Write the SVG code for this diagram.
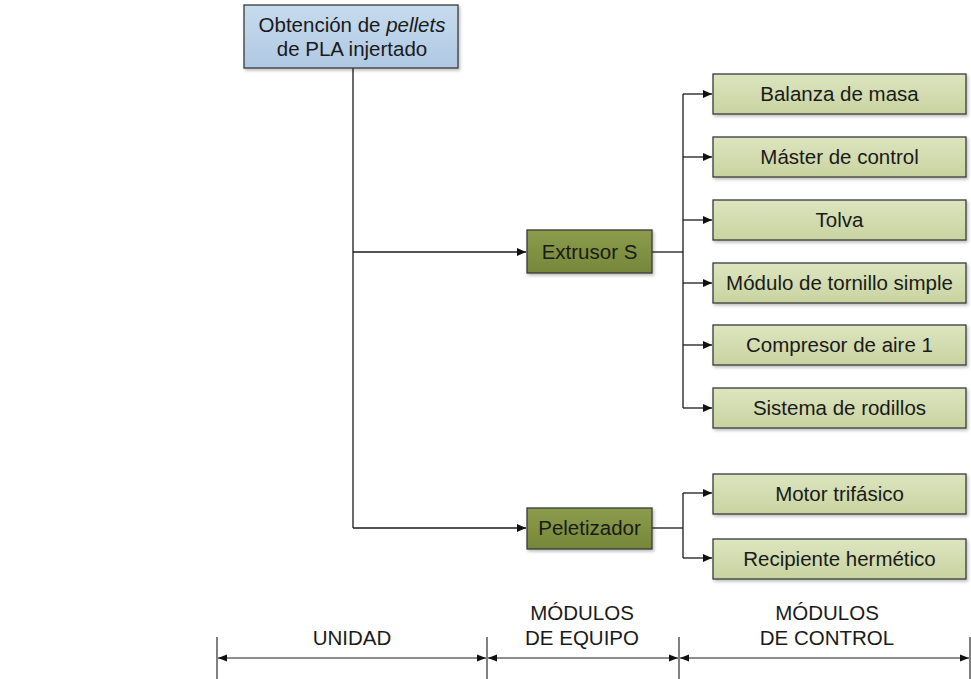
<svg xmlns="http://www.w3.org/2000/svg" width="971" height="679" viewBox="0 0 971 679">
<style>
text{font-family:"Liberation Sans",Arial,sans-serif;font-size:20.5px;fill:#1a1a1a;text-anchor:middle}
.ctl{fill:url(#gCtl);stroke:#3a3a3a;stroke-width:1.3}
.eq{fill:url(#gEq);stroke:#3a3a3a;stroke-width:1.3}
.un{fill:url(#gUn);stroke:#3a3a3a;stroke-width:1.3}
.ln{fill:none;stroke:#1a1a1a;stroke-width:1.3}
.dim{fill:none;stroke:#1a1a1a;stroke-width:1.1}
</style>
<defs>
<linearGradient id="gCtl" x1="0" y1="0" x2="0" y2="1"><stop offset="0" stop-color="#dde5bf"/><stop offset="1" stop-color="#c8d3a0"/></linearGradient>
<linearGradient id="gEq" x1="0" y1="0" x2="0" y2="1"><stop offset="0" stop-color="#8c9c4c"/><stop offset="1" stop-color="#76873a"/></linearGradient>
<linearGradient id="gUn" x1="0" y1="0" x2="0" y2="1"><stop offset="0" stop-color="#c7dbee"/><stop offset="1" stop-color="#afc9e2"/></linearGradient>
<filter id="sh" x="-10%" y="-20%" width="130%" height="150%"><feDropShadow dx="1.5" dy="2" stdDeviation="1.5" flood-color="#000" flood-opacity="0.25"/></filter>
<marker id="ar" markerWidth="10" markerHeight="10" refX="9" refY="5" orient="auto" markerUnits="userSpaceOnUse"><path d="M0,1 L9,5 L0,9 Z" fill="#111"/></marker>
<marker id="da" markerWidth="10" markerHeight="10" refX="9" refY="5" orient="auto-start-reverse" markerUnits="userSpaceOnUse"><path d="M0,1.5 L9,5 L0,8.5 Z" fill="#111"/></marker>
</defs>
<g id="connectors">
<path class="ln" d="M353,68 V528"/>
<path class="ln" d="M353,252 H526" marker-end="url(#ar)"/>
<path class="ln" d="M353,528 H526" marker-end="url(#ar)"/>
<path class="ln" d="M652,252 H683"/>
<path class="ln" d="M683,94 V408"/>
<path class="ln" d="M683,94 H712" marker-end="url(#ar)"/>
<path class="ln" d="M683,157 H712" marker-end="url(#ar)"/>
<path class="ln" d="M683,220 H712" marker-end="url(#ar)"/>
<path class="ln" d="M683,283 H712" marker-end="url(#ar)"/>
<path class="ln" d="M683,345 H712" marker-end="url(#ar)"/>
<path class="ln" d="M683,408 H712" marker-end="url(#ar)"/>
<path class="ln" d="M652,528 H683"/>
<path class="ln" d="M683,493 V558"/>
<path class="ln" d="M683,493 H712" marker-end="url(#ar)"/>
<path class="ln" d="M683,558 H712" marker-end="url(#ar)"/>
</g>
<g id="unidad"><rect class="un" x="244" y="5" width="214" height="63" filter="url(#sh)"/><text x="352" y="32">Obtención de <tspan font-style="italic">pellets</tspan></text><text x="352" y="56">de PLA injertado</text></g>
<g id="extrusor"><rect class="eq" x="527" y="230" width="125" height="43" filter="url(#sh)"/><text x="589.5" y="259">Extrusor S</text></g>
<g id="peletizador"><rect class="eq" x="527" y="508" width="125" height="41" filter="url(#sh)"/><text x="589.5" y="535">Peletizador</text></g>
<g id="balanza"><rect class="ctl" x="713" y="74" width="253" height="40" filter="url(#sh)"/><text x="839.5" y="101">Balanza de masa</text></g>
<g id="master"><rect class="ctl" x="713" y="137" width="253" height="40" filter="url(#sh)"/><text x="839.5" y="164">Máster de control</text></g>
<g id="tolva"><rect class="ctl" x="713" y="200" width="253" height="40" filter="url(#sh)"/><text x="839.5" y="227">Tolva</text></g>
<g id="modulo"><rect class="ctl" x="713" y="263" width="253" height="40" filter="url(#sh)"/><text x="839.5" y="290">Módulo de tornillo simple</text></g>
<g id="compresor"><rect class="ctl" x="713" y="325" width="253" height="40" filter="url(#sh)"/><text x="839.5" y="352">Compresor de aire 1</text></g>
<g id="rodillos"><rect class="ctl" x="713" y="388" width="253" height="40" filter="url(#sh)"/><text x="839.5" y="415">Sistema de rodillos</text></g>
<g id="motor"><rect class="ctl" x="713" y="474" width="253" height="40" filter="url(#sh)"/><text x="839.5" y="501">Motor trifásico</text></g>
<g id="recipiente"><rect class="ctl" x="713" y="539" width="253" height="40" filter="url(#sh)"/><text x="839.5" y="566">Recipiente hermético</text></g>
<g id="scale">
<path class="dim" d="M217,637 V679 M487,637 V679 M679,637 V679 M970,637 V679"/>
<path class="dim" d="M218,658 H486" marker-start="url(#da)" marker-end="url(#da)"/>
<path class="dim" d="M488,658 H678" marker-start="url(#da)" marker-end="url(#da)"/>
<path class="dim" d="M680,658 H969" marker-start="url(#da)" marker-end="url(#da)"/>
<text x="352" y="645">UNIDAD</text>
<text x="582" y="620">MÓDULOS</text>
<text x="582" y="645">DE EQUIPO</text>
<text x="827" y="620">MÓDULOS</text>
<text x="827" y="645">DE CONTROL</text>
</g>
</svg>
